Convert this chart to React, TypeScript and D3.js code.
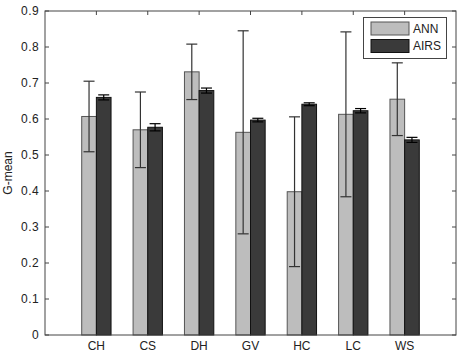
import React, { useEffect, useRef } from 'react';
import * as d3 from 'd3';

const categories = ['CH', 'CS', 'DH', 'GV', 'HC', 'LC', 'WS'];
const annMean = [0.607, 0.570, 0.731, 0.563, 0.398, 0.613, 0.655];
const annErr = [0.098, 0.105, 0.077, 0.282, 0.208, 0.229, 0.101];
const airsMean = [0.660, 0.577, 0.679, 0.597, 0.641, 0.623, 0.542];
const airsErr = [0.007, 0.010, 0.007, 0.005, 0.004, 0.006, 0.007];
const yTicks = [0, 0.1, 0.2, 0.3, 0.4, 0.5, 0.6, 0.7, 0.8, 0.9];
const seriesNames = ['ANN', 'AIRS'];

export default function App() {
  const ref = useRef<SVGSVGElement>(null);

  useEffect(() => {
    const w = 462, h = 358;
    const m = { left: 45, right: 6, top: 11, bottom: 23 };
    const svg = d3.select(ref.current).attr('width', w).attr('height', h);
    svg.selectAll('*').remove();

    const font = 'Liberation Sans, Arial, sans-serif';

    // x => category index (matlab style xlim [0, 8])
    const x = d3.scaleLinear().domain([0, 8]).range([m.left, w - m.right]);
    // y => G-mean
    const y = d3.scaleLinear().domain([0, 0.9]).range([h - m.bottom, m.top]);

    svg.append('rect')
      .attr('width', w).attr('height', h).attr('fill', 'white');

    const groupW = 0.571;
    const barW = groupW / 2;

    const series = [
      { mean: annMean, err: annErr, fill: '#bdbdbd', stroke: '#555', errColor: '#333', off: -barW / 2 },
      { mean: airsMean, err: airsErr, fill: '#3a3a3a', stroke: '#111', errColor: '#000', off: barW / 2 },
    ];

    series.forEach(s => {
      svg.append('g').selectAll('rect')
        .data(s.mean)
        .enter().append('rect')
        .attr('x', (d, i) => x(i + 1 + s.off - barW / 2))
        .attr('width', x(barW) - x(0))
        .attr('y', d => y(d))
        .attr('height', d => y(0) - y(d))
        .attr('fill', s.fill)
        .attr('stroke', s.stroke)
        .attr('stroke-width', 1);
    });

    // error bars
    series.forEach(s => {
      const g = svg.append('g').attr('stroke', s.errColor).attr('stroke-width', 1.2);
      s.mean.forEach((d, i) => {
        const cx = x(i + 1 + s.off);
        const lo = y(d - s.err[i]), hi = y(d + s.err[i]);
        g.append('line').attr('x1', cx).attr('x2', cx).attr('y1', lo).attr('y2', hi);
        g.append('line').attr('x1', cx - 5.5).attr('x2', cx + 5.5).attr('y1', lo).attr('y2', lo);
        g.append('line').attr('x1', cx - 5.5).attr('x2', cx + 5.5).attr('y1', hi).attr('y2', hi);
      });
    });

    // box
    const axColor = '#444';
    svg.append('rect')
      .attr('x', x(0)).attr('y', y(0.9))
      .attr('width', x(8) - x(0)).attr('height', y(0) - y(0.9))
      .attr('fill', 'none').attr('stroke', axColor).attr('stroke-width', 1);

    // y ticks (inward, both sides)
    const tk = 4;
    yTicks.forEach(t => {
      svg.append('line').attr('x1', x(0)).attr('x2', x(0) + tk)
        .attr('y1', y(t)).attr('y2', y(t)).attr('stroke', axColor);
      svg.append('line').attr('x1', x(8)).attr('x2', x(8) - tk)
        .attr('y1', y(t)).attr('y2', y(t)).attr('stroke', axColor);
      svg.append('text')
        .attr('x', x(0) - 6).attr('y', y(t)).attr('dy', '0.36em')
        .attr('text-anchor', 'end')
        .attr('font-family', font).attr('font-size', 12).attr('letter-spacing', 0.4).attr('fill', '#222')
        .text(t === 0 ? '0' : t.toFixed(1));
    });

    // x ticks and labels
    categories.forEach((c, i) => {
      svg.append('line').attr('x1', x(i + 1)).attr('x2', x(i + 1))
        .attr('y1', y(0.9)).attr('y2', y(0.9) + tk).attr('stroke', axColor);
      svg.append('text')
        .attr('x', x(i + 1)).attr('y', y(0) + 15)
        .attr('text-anchor', 'middle')
        .attr('font-family', font).attr('font-size', 12).attr('fill', '#222')
        .text(c);
    });

    // y label
    svg.append('text')
      .attr('transform', `translate(12,${(y(0) + y(0.9)) / 2}) rotate(-90)`)
      .attr('text-anchor', 'middle')
      .attr('font-family', font).attr('font-size', 12).attr('fill', '#222')
      .text('G-mean');

    // legend
    const lg = svg.append('g');
    lg.append('rect')
      .attr('x', 363.5).attr('y', 17.5).attr('width', 83).attr('height', 41)
      .attr('fill', 'white').attr('stroke', axColor);
    seriesNames.forEach((n, i) => {
      const s = series[i];
      lg.append('rect')
        .attr('x', 371).attr('y', 22 + i * 17.5).attr('width', 38).attr('height', 13)
        .attr('fill', s.fill).attr('stroke', s.stroke);
      lg.append('text')
        .attr('x', 413).attr('y', 28.5 + i * 17.5).attr('dy', '0.36em')
        .attr('font-family', font).attr('font-size', 12).attr('fill', '#222')
        .text(n);
    });
  }, []);

  return (
    <svg ref={ref} style={{ position: 'absolute', left: 0, top: 0, display: 'block' }} />
  );
}
